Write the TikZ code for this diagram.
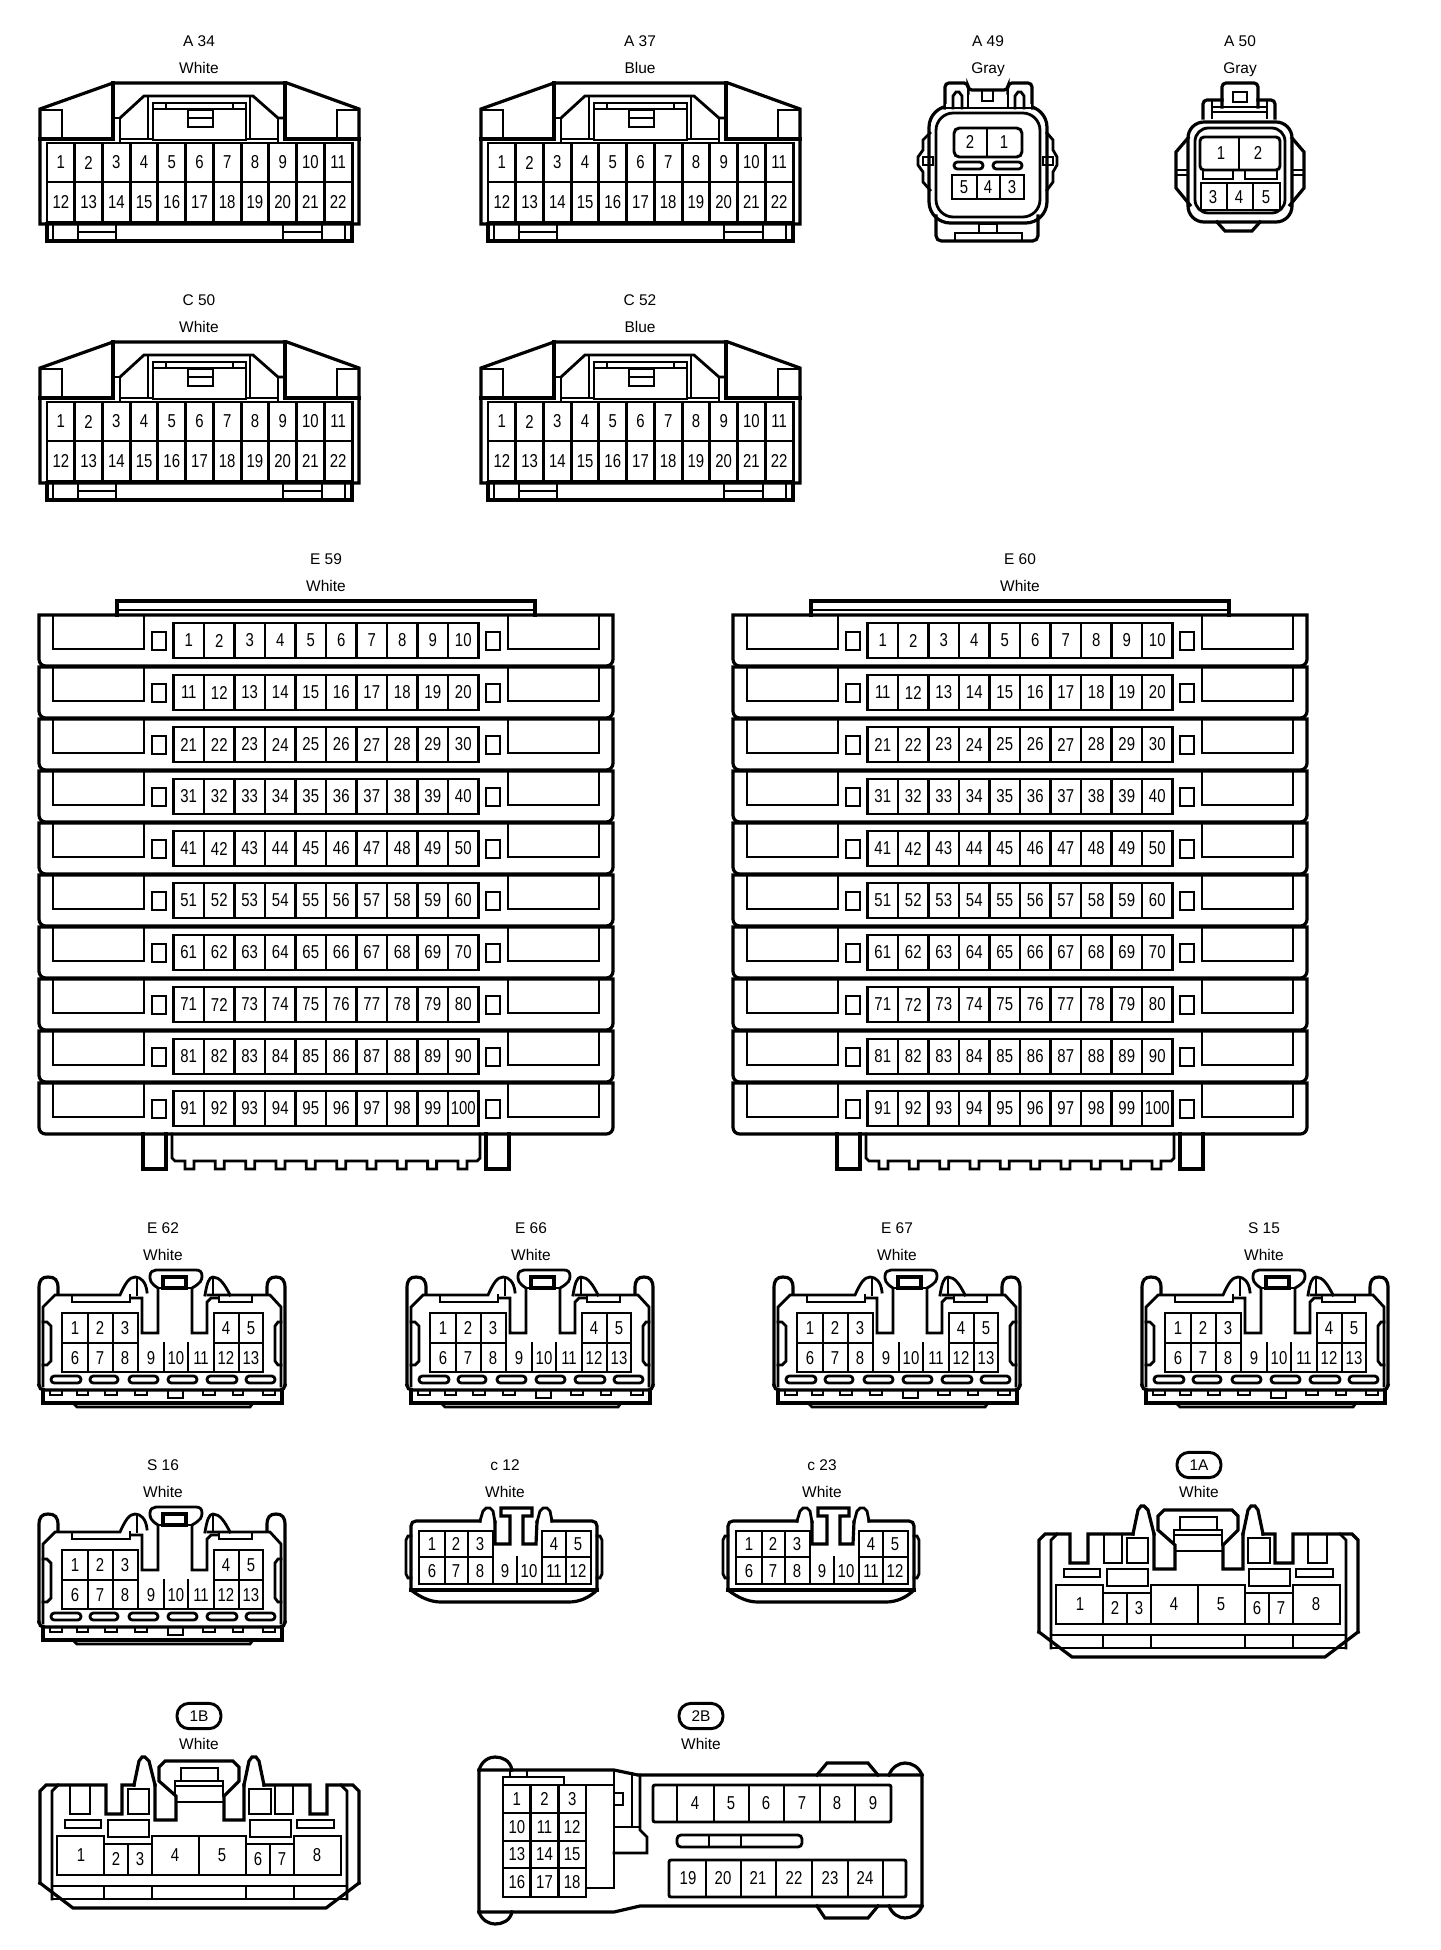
\documentclass[tikz,border=0pt]{standalone}
\usepackage{fontspec}
\setmainfont{Liberation Sans}
\newfontfamily\pinfont[FakeStretch=0.8]{Liberation Sans}
\tikzset{
 ol/.style={line width=2.4pt,line cap=rect,line join=miter},
 il/.style={line width=2.1pt,line cap=rect,line join=miter},
 gl/.style={line width=2.2pt,line cap=rect},
 pinlab/.style={inner sep=0pt,font=\pinfont\fontsize{14}{14}\selectfont},
 lbltxt/.style={inner sep=0pt,anchor=base,font=\fontsize{11.6}{12}\selectfont},
 ovaltag/.style={draw,line width=2.2pt,rounded corners=9pt,inner sep=0pt,minimum width=33pt,minimum height=19pt,font=\fontsize{11.6}{12}\selectfont}
}
% x0, pitch, n, ytop, ybot, first number
\newcommand\cellrow[6]{%
 \pgfmathsetmacro\rowend{#1+#2*#3}%
 \draw[gl] (#1,#4) rectangle (\rowend,#5);%
 \foreach \k in {1,...,#3}{%
  \pgfmathtruncatemacro\nn{#6+\k-1}%
  \pgfmathsetmacro\xx{#1+#2*(\k-0.5)}%
  \pgfmathsetmacro\vx{#1+#2*\k}%
  \pgfmathsetmacro\ym{(#4+#5)/2}%
  \ifnum\k<#3 \draw[gl] (\vx,#4)--(\vx,#5);\fi
  \node[pinlab] at (\xx,\ym) {\nn};
 }}
\newcommand\pnum[3]{\node[pinlab] at (#1,#2) {#3};}
\newcommand\tags[6]{% name x y1 y2 text colour
 \node[lbltxt] (tag#1) at (#2,{#3+5.5}) {#5};
 \node[lbltxt] (col#1) at (#2,{#4+5.5}) {#6};}
\newcommand\ConnA{%
 \draw[ol] (40,224)--(40,109)--(113,83)--(287,83)--(359,109)--(359,224)--cycle;
 \draw[ol] (40,139)--(113,139)--(113,83);
 \draw[ol] (285,83)--(285,139)--(359,139);
 \draw[il] (40,110)--(62,110)--(62,139);
 \draw[il] (359,110)--(337,110)--(337,139);
 \draw[il] (113,118)--(120,118)--(120,143);
 \draw[il] (120,118)--(144,96)--(253,96)--(278,118)--(285,118);
 \draw[il] (278,118)--(278,143);
 \draw[il] (120,139)--(153,139);
 \draw[il] (246,139)--(278,139);
 \draw[il] (148,96)--(148,139);
 \draw[il] (250,96)--(250,139);
 \draw[il] (153,103) rectangle (246,140);
 \draw[il] (153,109)--(246,109);
 \draw[il] (166,103)--(166,109);
 \draw[il] (233,103)--(233,109);
 \draw[il] (188,110) rectangle (213,127);
 \draw[il] (188,118)--(213,118);
 \cellrow{47}{27.73}{11}{143}{182}{1}
 \cellrow{47}{27.73}{11}{182}{222}{12}
 \draw[ol] (47,224)--(47,241)--(352,241)--(352,224);
 \draw[il] (53,224)--(53,241);
 \draw[il] (345,224)--(345,241);
 \draw[il] (78,224) rectangle (116,241);
 \draw[il] (78,232)--(116,232);
 \draw[il] (283,224) rectangle (322,241);
 \draw[il] (283,232)--(322,232);
}
\newcommand\ConnBig{%
 \draw[ol] (117,615)--(117,601)--(535,601)--(535,615);
 \draw[il] (117,610)--(535,610);
 \foreach \r in {0,...,9}{%
  \pgfmathtruncatemacro\t{615+52*\r}%
  \pgfmathtruncatemacro\fst{10*\r+1}%
  \draw[ol] (39,\t) [rounded corners=5pt] -- (39,{\t+51}) -- (613,{\t+51}) [sharp corners] -- (613,\t) -- cycle;
  \draw[il] (53,\t)--(53,{\t+34})--(144,{\t+34})--(144,\t);
  \draw[il] (508,\t)--(508,{\t+34})--(599,{\t+34})--(599,\t);
  \draw[il] (152,{\t+17}) rectangle (166,{\t+35});
  \draw[il] (486,{\t+17}) rectangle (500,{\t+35});
  \cellrow{173.5}{30.5}{10}{\t+8}{\t+43}{\fst}
 }
 \draw[ol] (143,1134)--(143,1169)--(166,1169)--(166,1134);
 \draw[ol] (486,1134)--(486,1169)--(509,1169)--(509,1134);
 \draw[il] (172,1134)--(172,1158)--(175,1161)
  \foreach \q in {0,...,9}{ -- ({185+30.33*\q},1161) -- ({185+30.33*\q},1169) -- ({194+30.33*\q},1169) -- ({194+30.33*\q},1161) }
  -- (477,1161)--(480,1158)--(480,1134);
}
\newcommand\ConnE{%
 % ears and outer
 \draw[ol] (39,1385)--(39,1288) .. controls (39,1280) and (42,1277) .. (48,1277) .. controls (55,1277) and (58,1280) .. (58,1288)--(58,1293);
 \draw[ol] (267,1293)--(267,1288) .. controls (267,1280) and (270,1277) .. (276,1277) .. controls (282,1277) and (285,1280) .. (285,1288)--(285,1385);
 \draw[ol] (39,1385) .. controls (39,1388) and (41,1390) .. (44,1390)--(280,1390) .. controls (283,1390) and (285,1388) .. (285,1385);
 % inner contour
 \draw[il] (43,1386)--(43,1307)--(55,1295)--(120,1295) .. controls (125,1284) and (129,1277) .. (135,1277) .. controls (141,1277) and (146,1282) .. (147,1292);
 \draw[il] (132,1298)--(142,1298)--(142,1333)--(158,1333)--(158,1288)
   .. controls (150,1283) and (150,1280) .. (150,1276) .. controls (150,1272) and (153,1270) .. (156,1270)--(196,1270)
   .. controls (200,1270) and (202,1272) .. (202,1276) .. controls (202,1280) and (201,1283) .. (192,1288)--(192,1333)--(207,1333)--(207,1302)--(211,1298)--(218,1298);
 \draw[il] (205,1295) .. controls (207,1283) and (209,1277) .. (213,1277) .. controls (220,1277) and (225,1285) .. (230,1295);
 \draw[il] (213,1277)--(213,1295);
 \draw[il] (137,1277)--(137,1295);
 \draw[il] (208,1295)--(270,1295)--(281,1307)--(281,1386);
 \draw[il] (158,1288)--(192,1288);
 \draw[ol] (163,1277) rectangle (186,1288);
 \draw[il] (72,1295)--(72,1302)--(130,1302)--(130,1295);
 \draw[il] (219,1295)--(219,1302)--(252,1302)--(252,1295);
 % side tabs
 \draw[il] (43,1322)--(47,1322)--(51,1326)--(51,1361)--(47,1365)--(43,1365);
 \draw[il] (281,1322)--(278,1322)--(275,1326)--(275,1361)--(278,1365)--(281,1365);
 % grid
 \draw[gl] (138,1343)--(138,1313)--(62,1313)--(62,1372)--(263,1372)--(263,1313)--(214,1313)--(214,1372);
 \draw[gl] (62,1343)--(138,1343);
 \draw[gl] (214,1343)--(263,1343);
 \foreach \vx in {88,113,239}{\draw[gl] (\vx,1313)--(\vx,1372);}
 \foreach \vx in {138,164,188}{\draw[gl] (\vx,1343)--(\vx,1372);}
 \pnum{75}{1328}{1}\pnum{100}{1328}{2}\pnum{125}{1328}{3}\pnum{226}{1328}{4}\pnum{251}{1328}{5}
 \pnum{75}{1358}{6}\pnum{100}{1358}{7}\pnum{125}{1358}{8}\pnum{151}{1358}{9}\pnum{176}{1358}{10}\pnum{201}{1358}{11}\pnum{226}{1358}{12}\pnum{251}{1358}{13}
 % ovals
 \foreach \a/\b in {51/81,90/118,129/158,168/197,207/237,246/275}{
  \draw[il,rounded corners=2.5pt] (\a,1376) rectangle (\b,1383);}
 % bottom
 \draw[ol] (43,1390)--(43,1403)--(282,1403)--(282,1390);
 \draw[il] (73,1403)--(77,1407)--(250,1407)--(253,1403);
 \foreach \a/\b in {50/62,77/88,105/117,135/147,203/215,233/243,263/275}{
  \draw[il] (\a,1390)--(\a,1395)--(\b,1395)--(\b,1390);}
 \draw[il] (168,1390) rectangle (183,1398);
}
\newcommand\ConnC{%
 \draw[ol] (411,1590)--(411,1526) .. controls (411,1523) and (413,1521) .. (416,1521)--(480,1521);
 \draw[ol] (552,1521)--(592,1521) .. controls (595,1521) and (597,1523) .. (597,1526)--(597,1590);
 \draw[ol] (411,1590)--(597,1590);
 \draw[ol] (411,1590) .. controls (420,1597) and (430,1602) .. (441,1602)--(569,1602) .. controls (580,1602) and (590,1597) .. (597,1590);
 \draw[il] (411,1536)--(408,1536)--(406,1540)--(406,1574)--(408,1578)--(411,1578);
 \draw[il] (597,1536)--(600,1536)--(602,1540)--(602,1574)--(600,1578)--(597,1578);
 \draw[il] (480,1521)--(483,1511)--(486,1508)--(490,1508)--(493,1511)--(495,1522);
 \draw[il] (537,1522)--(540,1511)--(543,1508)--(547,1508)--(550,1511)--(552,1521);
 \draw[ol] (495,1522)--(495,1544)--(510,1544)--(510,1516)--(501,1516)--(501,1508)--(532,1508)--(532,1516)--(523,1516)--(523,1544)--(536,1544)--(537,1522);
 \draw[gl] (493,1557)--(493,1531)--(419,1531)--(419,1584)--(591,1584)--(591,1531)--(542,1531)--(542,1584);
 \draw[gl] (419,1557)--(493,1557);
 \draw[gl] (542,1557)--(591,1557);
 \foreach \vx in {445,468,566}{\draw[gl] (\vx,1531)--(\vx,1584);}
 \foreach \vx in {493,517}{\draw[gl] (\vx,1557)--(\vx,1584);}
 \pnum{432}{1544}{1}\pnum{456}{1544}{2}\pnum{480}{1544}{3}\pnum{554}{1544}{4}\pnum{578}{1544}{5}
 \pnum{432}{1571}{6}\pnum{456}{1571}{7}\pnum{480}{1571}{8}\pnum{505}{1571}{9}\pnum{529}{1571}{10}\pnum{554}{1571}{11}\pnum{578}{1571}{12}
}
% notch a-b, rect c-d, notch e-f, rect g-h
\newcommand\ConnP[8]{%
 \draw[ol] (1039,1632)--(1039,1540)--(1045,1534)--(#1,1534)--(#1,1563)--(#2,1563)--(#2,1534)--(1133,1534);
 \draw[ol] (1133,1534)--(1138,1510)--(1141,1506)--(1144,1506)--(1148,1510)--(1154,1534);
 \draw[ol] (1154,1534)--(1154,1569)--(1175,1569)--(1175,1545)--(1158,1530)--(1158,1516)--(1164,1510)--(1232,1510)--(1238,1516)--(1238,1530)--(1223,1545)--(1223,1569)--(1243,1569)--(1243,1534);
 \draw[ol] (1243,1534)--(1248,1510)--(1251,1506)--(1255,1506)--(1258,1510)--(1263,1534);
 \draw[ol] (1263,1534)--(#5,1534)--(#5,1563)--(#6,1563)--(#6,1534)--(1352,1534)--(1358,1540)--(1358,1632);
 \draw[il] (1180,1530)--(1180,1517)--(1217,1517)--(1217,1530);
 \draw[il] (1174,1545)--(1174,1530)--(1222,1530)--(1222,1545);
 \draw[il] (1176,1535)--(1220,1535);
 \draw[il] (1176,1551)--(1222,1551);
 \draw[il] (#3,1534)--(#3,1563)--(#4,1563)--(#4,1534);
 \draw[il] (#7,1534)--(#7,1563)--(#8,1563)--(#8,1534);
 \draw[il] (1127,1538) rectangle (1148,1563);
 \draw[il] (1248,1538) rectangle (1270,1563);
 \draw[il] (1107,1569) rectangle (1148,1586);
 \draw[il] (1249,1569) rectangle (1290,1586);
 \draw[il] (1064,1569) rectangle (1100,1577);
 \draw[il] (1296,1569) rectangle (1333,1577);
 \draw[gl] (1056,1585)--(1103,1585)--(1103,1593)--(1151,1593)--(1151,1585)--(1245,1585)--(1245,1593)--(1293,1593)--(1293,1585)--(1340,1585)--(1340,1624)--(1056,1624)--cycle;
 \foreach \vx in {1103,1127,1151,1198,1245,1269,1293}{\draw[gl] (\vx,1593)--(\vx,1624);}
 \draw[gl] (1198,1585)--(1198,1593);
 \pnum{1080}{1604}{1}\pnum{1115}{1608}{2}\pnum{1139}{1608}{3}\pnum{1174}{1604}{4}\pnum{1221}{1604}{5}\pnum{1257}{1608}{6}\pnum{1281}{1608}{7}\pnum{1316}{1604}{8}
 \draw[il] (1051,1648)--(1051,1540)--(1057,1534);
 \draw[il] (1346,1648)--(1346,1540)--(1340,1534);
 \draw[il] (1051,1635)--(1346,1635);
 \draw[il] (1051,1648)--(1346,1648);
 \foreach \vx in {1103,1151,1245,1293}{\draw[il] (\vx,1635)--(\vx,1648);}
 \draw[ol] (1039,1632)--(1072,1657)--(1325,1657)--(1358,1632);
}
\begin{document}
\begin{tikzpicture}[x=0.75pt,y=-0.75pt]
\useasboundingbox (0,0) rectangle (1440,1950);
\fill[white] (0,0) rectangle (1440,1950);
% row A / C
\tags{Aa}{199}{41}{68}{A 34}{White}
\ConnA
\tags{Ab}{640}{41}{68}{A 37}{Blue}
\begin{scope}[shift={(441,0)}]\ConnA\end{scope}
\tags{Ca}{199}{300}{327}{C 50}{White}
\begin{scope}[shift={(0,259)}]\ConnA\end{scope}
\tags{Cb}{640}{300}{327}{C 52}{Blue}
\begin{scope}[shift={(441,259)}]\ConnA\end{scope}
% A49
\tags{Ac}{988}{41}{68}{A 49}{Gray}
\draw[il,rounded corners=13pt] (936,113) rectangle (1040,217);
\draw[ol,rounded corners=16pt] (929,106) rectangle (1047,223);
\draw[ol,rounded corners=3pt] (945,108)--(945,83)--(968,83)--(968,90)--(1008,90)--(1008,83)--(1032,83)--(1032,108);
\fill[white] (946,104) rectangle (1031,110);
\draw[il] (953,108)--(953,96)--(956,92)--(959,92)--(962,96)--(962,108);
\draw[il] (1015,108)--(1015,96)--(1018,92)--(1021,92)--(1024,96)--(1024,108);
\draw[il] (968,90)--(968,108);\draw[il] (1008,90)--(1008,108);
\draw[il] (945,108)--(1032,108);
\draw[il] (982,90) rectangle (993,101);
\draw[il] (930,133)--(923,140)--(923,150)--(918,157)--(918,165)--(923,172)--(923,182)--(930,190);
\draw[il] (923,157) rectangle (933,165);
\draw[il] (1047,133)--(1053,140)--(1053,150)--(1057,157)--(1057,165)--(1053,172)--(1053,182)--(1047,190);
\draw[il] (1043,157) rectangle (1053,165);
\draw[gl,rounded corners=4pt] (954,157)--(954,128)--(1022,128)--(1022,157)--cycle;
\draw[gl] (987,128)--(987,157);
\draw[il,rounded corners=2.5pt] (954,162) rectangle (983,169);
\draw[il,rounded corners=2.5pt] (993,162) rectangle (1022,169);
\draw[gl] (952,175) rectangle (1024,199);
\draw[gl] (977,175)--(977,199);\draw[gl] (1000,175)--(1000,199);
\pnum{970}{142}{2}\pnum{1004}{142}{1}\pnum{964}{187}{5}\pnum{988}{187}{4}\pnum{1012}{187}{3}
\draw[ol,rounded corners=4pt] (936,216)--(936,241)--(1038,241)--(1038,216);
\draw[il] (955,241)--(955,233)--(1022,233)--(1022,241);
\draw[il] (979,224) rectangle (997,233);
% A50
\tags{Ad}{1240}{41}{68}{A 50}{Gray}
\draw[ol,rounded corners=12pt] (1188,122) rectangle (1292,222);
\draw[il,rounded corners=10pt] (1195,128) rectangle (1285,213);
\draw[ol] (1188,138)--(1176,152)--(1176,188)--(1190,205);
\draw[ol] (1292,138)--(1304,152)--(1304,188)--(1290,205);
\draw[il] (1178,170)--(1188,170);\draw[il] (1178,175)--(1188,175);
\draw[il] (1292,170)--(1302,170);\draw[il] (1292,175)--(1302,175);
\draw[ol,rounded corners=3pt] (1222,107)--(1222,83)--(1258,83)--(1258,107);
\draw[il] (1233,92) rectangle (1247,102);
\draw[ol,rounded corners=3pt] (1203,118)--(1203,100)--(1222,100);
\draw[ol,rounded corners=3pt] (1258,100)--(1275,100)--(1275,118);
\draw[il] (1212,100)--(1212,118);\draw[il] (1267,100)--(1267,118);
\draw[il] (1212,107)--(1267,107);\draw[il] (1212,112)--(1267,112);
\draw[gl,rounded corners=3pt] (1200,170)--(1200,137)--(1280,137)--(1280,170)--cycle;
\draw[gl] (1239,137)--(1239,170);
\draw[il] (1203,170)--(1203,179)--(1233,179)--(1233,170);
\draw[il] (1245,170)--(1245,179)--(1277,179)--(1277,170);
\draw[gl] (1201,183) rectangle (1280,210);
\draw[gl] (1227,183)--(1227,210);\draw[gl] (1253,183)--(1253,210);
\pnum{1221}{153}{1}\pnum{1258}{153}{2}\pnum{1213}{197}{3}\pnum{1239}{197}{4}\pnum{1266}{197}{5}
\draw[ol] (1217,222)--(1225,231)--(1252,231)--(1260,222);
% E59 E60
\tags{Ea}{326}{559}{586}{E 59}{White}
\ConnBig
\tags{Eb}{1020}{559}{586}{E 60}{White}
\begin{scope}[shift={(694,0)}]\ConnBig\end{scope}
% E62 row
\tags{Ec}{163}{1228}{1255}{E 62}{White}
\ConnE
\tags{Ed}{531}{1228}{1255}{E 66}{White}
\begin{scope}[shift={(368,0)}]\ConnE\end{scope}
\tags{Ee}{897}{1228}{1255}{E 67}{White}
\begin{scope}[shift={(735,0)}]\ConnE\end{scope}
\tags{Sa}{1264}{1228}{1255}{S 15}{White}
\begin{scope}[shift={(1103,0)}]\ConnE\end{scope}
% row S16
\tags{Sb}{163}{1465}{1492}{S 16}{White}
\begin{scope}[shift={(0,237)}]\ConnE\end{scope}
\tags{ca}{505}{1465}{1492}{c 12}{White}
\ConnC
\tags{cb}{822}{1465}{1492}{c 23}{White}
\begin{scope}[shift={(317,0)}]\ConnC\end{scope}
% 1A
\node[ovaltag] (ovA) at (1199,1465) {1A};
\node[lbltxt] (colA) at (1199,1497.5) {White};
\ConnP{1070}{1088}{1104}{1122}{1275}{1293}{1308}{1327}
% 1B
\node[ovaltag] (ovB) at (199,1716) {1B};
\node[lbltxt] (colB) at (199,1749) {White};
\begin{scope}[shift={(-999,251)}]\ConnP{1105}{1121}{1069}{1089}{1309}{1326}{1274}{1292}\end{scope}
% 2B
\node[ovaltag] (ovC) at (701,1716) {2B};
\node[lbltxt] (colC) at (701,1749) {White};
\draw[ol] (479,1770)--(614,1770)--(638,1775)--(922,1775)--(922,1906)--(640,1906)--(614,1912)--(479,1912)--cycle;
\draw[ol] (479,1770) .. controls (482,1760) and (490,1757) .. (495,1757) .. controls (502,1757) and (510,1760) .. (512,1770);
\draw[ol] (479,1912) .. controls (482,1921) and (490,1924) .. (495,1924) .. controls (502,1924) and (510,1921) .. (512,1912);
\draw[ol] (889,1775) .. controls (892,1767) and (899,1763) .. (905,1763) .. controls (912,1763) and (919,1767) .. (922,1775);
\draw[ol] (889,1906) .. controls (892,1914) and (899,1918) .. (905,1918) .. controls (912,1918) and (919,1914) .. (922,1906);
\draw[ol] (817,1775)--(827,1763)--(868,1763)--(878,1775);
\draw[ol] (817,1906)--(825,1918)--(868,1918)--(878,1906);
\cellrow{503}{27.67}{3}{1785}{1813}{1}
\cellrow{503}{27.67}{3}{1813}{1841}{10}
\cellrow{503}{27.67}{3}{1841}{1868}{13}
\cellrow{503}{27.67}{3}{1868}{1897}{16}
\draw[il] (503,1785)--(503,1777)--(564,1777)--(564,1785);
\draw[il] (510,1770)--(510,1777);
\draw[il] (527,1770)--(527,1777);
\draw[il] (586,1785)--(614,1785);
\draw[il] (614,1770)--(614,1888)--(586,1888);
\draw[il] (614,1793)--(623,1793)--(623,1805)--(614,1805);
\draw[il] (632,1773)--(632,1827);
\draw[il] (640,1775)--(640,1830)--(647,1837)--(647,1853)--(614,1853);
\draw[il] (614,1827)--(640,1827);
\draw[gl,rounded corners=1.5pt] (653,1785) rectangle (891,1822);
\foreach \vx in {677,714,749,784,820,855}{\draw[gl] (\vx,1785)--(\vx,1822);}
\pnum{695}{1803}{4}\pnum{731}{1803}{5}\pnum{766}{1803}{6}\pnum{802}{1803}{7}\pnum{837}{1803}{8}\pnum{873}{1803}{9}
\draw[il,rounded corners=3pt] (677,1835) rectangle (802,1847);
\draw[il] (709,1835)--(709,1847);\draw[il] (741,1835)--(741,1847);
\draw[gl,rounded corners=1.5pt] (669,1860) rectangle (906,1897);
\foreach \vx in {706,741,776,812,848,883}{\draw[gl] (\vx,1860)--(\vx,1897);}
\pnum{688}{1878}{19}\pnum{723}{1878}{20}\pnum{758}{1878}{21}\pnum{794}{1878}{22}\pnum{830}{1878}{23}\pnum{865}{1878}{24}
\end{tikzpicture}
\end{document}
